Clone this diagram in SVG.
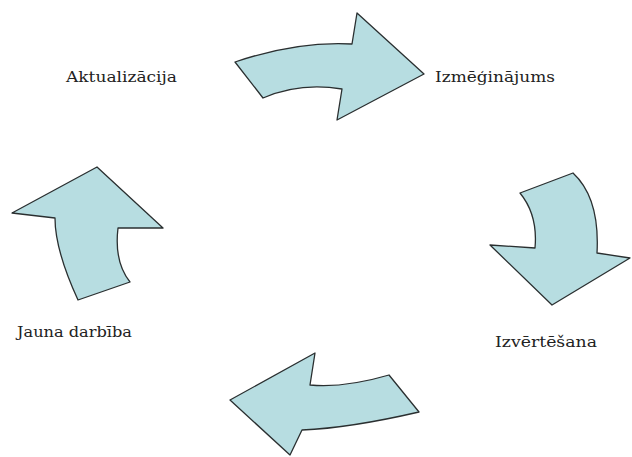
<svg xmlns="http://www.w3.org/2000/svg" width="632" height="457" viewBox="0 0 632 457">
<style>
.arr{fill:#b7dde1;stroke:#2a2f30;stroke-width:1.3;stroke-linejoin:round}
.lbl{font-family:"DejaVu Serif","Liberation Serif",serif;font-size:14px;fill:#222}
</style>
<rect width="632" height="457" fill="#ffffff"/>
<g id="connectors">
<path id="arrow-top" class="arr" d="M235,62 Q297,41 352,44 L357,13 L424,74 L337,120 L342,89 Q300,82 263,98 Z"/>
<path id="arrow-right" class="arr" d="M520,193 L573,173 Q600,198 597,253 L630,258 L552,305 L490,245 L535,248 Q538,215 520,193 Z"/>
<path id="arrow-bottom" class="arr" d="M315,353 L310,385 Q345,388 389,375 L419,412 Q350,428 302,430 L290,455 L230,400 Z"/>
<path id="arrow-left" class="arr" d="M97,167 L163,228 L118,228 Q114,262 130,282 L78,300 Q55,250 55,218 L12,213 Z"/>
</g>
<g id="node-aktualizacija"><text class="lbl" x="66" y="82" textLength="111" lengthAdjust="spacingAndGlyphs">Aktualizācija</text></g>
<g id="node-izmeginajums"><text class="lbl" x="435" y="82" textLength="120" lengthAdjust="spacingAndGlyphs">Izmēģinājums</text></g>
<g id="node-izvertesana"><text class="lbl" x="495" y="347" textLength="102" lengthAdjust="spacingAndGlyphs">Izvērtēšana</text></g>
<g id="node-jauna-darbiba"><text class="lbl" x="17" y="337" textLength="115" lengthAdjust="spacingAndGlyphs">Jauna darbība</text></g>
</svg>
